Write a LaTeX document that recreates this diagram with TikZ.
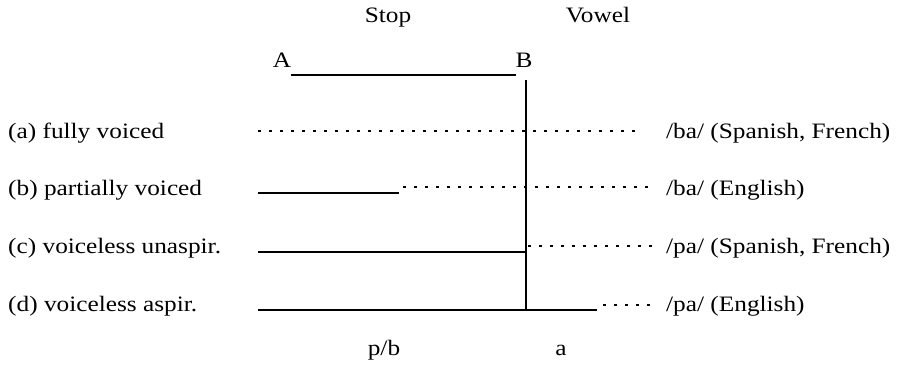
\documentclass[tikz,border=0pt]{standalone}
\usepackage{fontspec}
\setmainfont{Liberation Serif}[FakeStretch=1.15]
\begin{document}
\begin{tikzpicture}[x=1pt,y=-1pt,
  lbl/.style={inner sep=0pt,anchor=base,font=\fontsize{22}{26}\selectfont},
  thin/.style={line width=1.3pt},
  thick/.style={line width=2.6pt},
  dots/.style={line width=1.3pt,dash pattern=on 3pt off 8pt}]
\useasboundingbox (0,0) rectangle (921,365);
% headers
\node[lbl] (stop) at (388,22) {Stop};
\node[lbl] (vowel) at (598,22) {Vowel};
\node[lbl] (A) at (282,67) {A};
\node[lbl] (B) at (524,67) {B};
\coordinate (a1) at (291,75);
\coordinate (b1) at (516,75);
\draw[thin] (a1) -- (b1);
% vertical line
\coordinate (vt) at (526,80);
\coordinate (vb) at (526,311);
\draw[thick] (vt) -- (vb);
% row labels
\node[lbl,anchor=base west] (ra) at (8,138) {(a) fully voiced};
\node[lbl,anchor=base west] (rb) at (8,195) {(b) partially voiced};
\node[lbl,anchor=base west] (rc) at (8,253) {(c) voiceless unaspir.};
\node[lbl,anchor=base west] (rd) at (8,311) {(d) voiceless aspir.};
\node[lbl,anchor=base west] (la) at (666,138) {/ba/ (Spanish, French)};
\node[lbl,anchor=base west] (lb) at (666,195) {/ba/ (English)};
\node[lbl,anchor=base west] (lc) at (666,253) {/pa/ (Spanish, French)};
\node[lbl,anchor=base west] (ld) at (666,311) {/pa/ (English)};
% row a
\coordinate (as) at (258,131); \coordinate (ae) at (642,131);
\draw[dots] (as) -- (ae);
% row b
\coordinate (bs) at (258,193); \coordinate (bm) at (399,193);
\coordinate (bd) at (403,187); \coordinate (be) at (652,187);
\draw[thin] (bs) -- (bm);
\draw[dots] (bd) -- (be);
% row c
\coordinate (cs) at (258,252); \coordinate (cm) at (526,252);
\coordinate (cd) at (528,246); \coordinate (ce) at (652,246);
\draw[thin] (cs) -- (cm);
\draw[dots] (cd) -- (ce);
% row d
\coordinate (ds) at (258,310); \coordinate (dm) at (597,310);
\coordinate (dd) at (603,305); \coordinate (de) at (652,305);
\draw[thin] (ds) -- (dm);
\draw[dots] (dd) -- (de);
% bottom
\node[lbl] (pb) at (384,355) {p/b};
\node[lbl] (av) at (561,355) {a};
\end{tikzpicture}
\end{document}
